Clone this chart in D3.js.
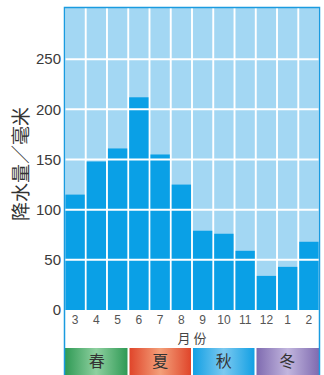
<!DOCTYPE html>
<html lang="zh">
<head>
    <meta charset="UTF-8">
    <title>降水量</title>
    <script src="https://cdn.jsdelivr.net/npm/d3@7"></script>
    <style>
        body { margin: 0; background: #fff; }
        text { font-family: "Liberation Sans", "Noto Sans CJK SC", sans-serif; }
    </style>
</head>
<body>
<script>
    var width = 324, height = 375;
    var months = ["3", "4", "5", "6", "7", "8", "9", "10", "11", "12", "1", "2"];
    var rain = [115, 148, 161, 212, 155, 125, 79, 76, 59, 34, 43, 68];
    var yTicks = [0, 50, 100, 150, 200, 250];
    var seasons = ["春", "夏", "秋", "冬"];
    var seasonColors = [["#2f9a55", "#8fd0a0"], ["#e0452a", "#f3a07a"], ["#12a0e4", "#7cc9f0"], ["#7f6bb0", "#c2b6de"]];

    // 注意: 不能用 top 做变量名 (window.top)
    var plotL = 65, plotR = 319, plotT = 8, zeroY = 310;
    var svg = d3.select("body").append("svg")
            .attr("width", width)
            .attr("height", height);

    var x = d3.scaleBand().domain(months).range([plotL, plotR]).paddingInner(0.09).paddingOuter(0.02);
    var y = d3.scaleLinear().domain([0, 300]).range([zeroY, plotT + 1]);

    // 渐变色 季节条
    var defs = svg.append("defs");
    seasons.forEach(function (s, i) {
        var g = defs.append("linearGradient").attr("id", "sg" + i).attr("x1", 0).attr("x2", 1);
        g.append("stop").attr("offset", "0%").attr("stop-color", seasonColors[i][0]);
        g.append("stop").attr("offset", "50%").attr("stop-color", seasonColors[i][1]);
        g.append("stop").attr("offset", "100%").attr("stop-color", seasonColors[i][0]);
    });

    // 白底 + 每列浅蓝背景 (列之间留白线)
    svg.append("rect").attr("x", plotL).attr("y", plotT).attr("width", plotR - plotL).attr("height", zeroY - plotT)
            .attr("fill", "#ffffff");
    svg.selectAll(".col").data(months).enter().append("rect")
            .attr("x", function (d) { return x(d); })
            .attr("y", plotT)
            .attr("width", x.bandwidth())
            .attr("height", zeroY - plotT)
            .attr("fill", "#a3d7f3");

    // 柱子
    svg.selectAll(".bar").data(rain).enter().append("rect")
            .attr("x", function (d, i) { return x(months[i]); })
            .attr("y", function (d) { return y(d); })
            .attr("width", x.bandwidth())
            .attr("height", function (d) { return zeroY - y(d); })
            .attr("fill", "#0aa0e6");

    // 横向网格线
    svg.selectAll(".grid").data(yTicks.slice(1)).enter().append("line")
            .attr("x1", plotL).attr("x2", plotR)
            .attr("y1", function (d) { return y(d); })
            .attr("y2", function (d) { return y(d); })
            .attr("stroke", "#ffffff").attr("stroke-width", 2);

    // y 轴刻度
    svg.selectAll(".ytick").data(yTicks).enter().append("text")
            .attr("x", 61)
            .attr("y", function (d) { return y(d); })
            .attr("dy", "0.35em")
            .attr("text-anchor", "end")
            .attr("font-size", 15)
            .attr("fill", "#3a3a3a")
            .text(function (d) { return d; });

    // y 轴标题
    svg.append("text")
            .attr("transform", "translate(28,164) rotate(-90)")
            .attr("text-anchor", "middle")
            .attr("font-size", 19)
            .attr("fill", "#333")
            .style("font-family", "'Noto Sans CJK SC'")
            .text("降水量／毫米");

    // 月份
    svg.selectAll(".xtick").data(months).enter().append("text")
            .attr("x", function (d) { return x(d) + x.bandwidth() / 2; })
            .attr("y", 324)
            .attr("text-anchor", "middle")
            .attr("font-size", 12)
            .attr("fill", "#555")
            .text(function (d) { return d; });

    svg.append("text")
            .attr("x", (plotL + plotR) / 2).attr("y", 343)
            .attr("text-anchor", "middle")
            .attr("font-size", 13)
            .attr("fill", "#444")
            .style("font-family", "'Noto Sans CJK SC'")
            .text("月 份");

    // 季节条
    var seasonW = (plotR - plotL) / 4;
    seasons.forEach(function (s, i) {
        svg.append("rect")
                .attr("x", plotL + i * seasonW + (i > 0 ? 1 : 0))
                .attr("y", 348)
                .attr("width", seasonW - (i > 0 ? 1 : 0) - (i < 3 ? 1 : 0))
                .attr("height", 27)
                .attr("fill", "url(#sg" + i + ")");
        svg.append("text")
                .attr("x", plotL + i * seasonW + seasonW / 2)
                .attr("y", 367)
                .attr("text-anchor", "middle")
                .attr("font-size", 16)
                .attr("fill", "#333")
                .style("font-family", "'Noto Sans CJK SC'")
                .text(s);
    });

    // 外框
    svg.append("rect").attr("x", plotL - 0.5).attr("y", plotT - 0.5)
            .attr("width", plotR - plotL + 1).attr("height", height - plotT + 2)
            .attr("fill", "none").attr("stroke", "#1a9be0").attr("stroke-width", 1.5);
</script>
</body>
</html>
